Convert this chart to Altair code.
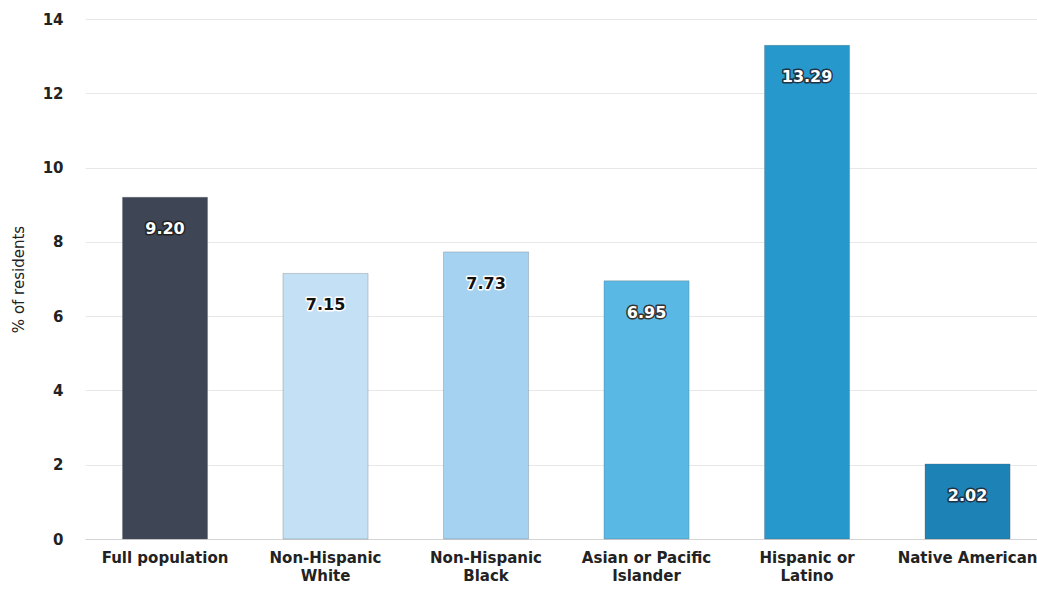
import altair as alt
import pandas as pd

# Share of residents by group
groups = [
    "Full population",
    "Non-Hispanic\nWhite",
    "Non-Hispanic\nBlack",
    "Asian or Pacific\nIslander",
    "Hispanic or\nLatino",
    "Native American",
]
values = [9.20, 7.15, 7.73, 6.95, 13.29, 2.02]
bar_colors = ["#3e4554", "#c4e0f5", "#a5d2f0", "#59b9e4", "#2698cc", "#1d82b6"]
label_fill = ["#ffffff", "#111111", "#111111", "#ffffff", "#ffffff", "#ffffff"]
label_halo = ["#222222", "#ffffff", "#ffffff", "#333333", "#1f3344", "#1f3344"]
y_ticks = [0, 2, 4, 6, 8, 10, 12, 14]

df = pd.DataFrame({
    "group": groups,
    "value": values,
    "color": bar_colors,
    "fill": label_fill,
    "halo": label_halo,
})
df["label"] = df["value"].map(lambda v: f"{v:.2f}")

FONT = "DejaVu Sans"

x = alt.X(
    "group:N",
    sort=groups,
    scale=alt.Scale(paddingInner=0.47, paddingOuter=0.2006, align=0.582),
    axis=alt.Axis(
        title=None,
        labelAngle=0,
        labelExpr="split(datum.label, '\\n')",
        labelFont=FONT,
        labelFontSize=15,
        labelFontWeight="bold",
        labelColor="#222222",
        labelPadding=11,
        labelLineHeight=18,
        ticks=False,
        domain=True,
        domainColor="#d4d4d4",
        grid=False,
    ),
)
y = alt.Y(
    "value:Q",
    scale=alt.Scale(domain=[0, 14], nice=False),
    axis=alt.Axis(
        title="% of residents",
        values=y_ticks,
        titleFont=FONT,
        titleFontSize=15,
        titleFontWeight="normal",
        titleColor="#222222",
        titleX=-67,
        titleY=260,
        titleAngle=-90,
        titleAlign="center",
        titleBaseline="middle",
        labelFont=FONT,
        labelFontSize=15,
        labelFontWeight="bold",
        labelColor="#222222",
        labelPadding=22,
        ticks=False,
        domain=False,
        grid=True,
        gridColor="#e8e8e8",
        gridWidth=1,
    ),
)

base = alt.Chart(df)

bars = base.mark_bar(stroke="#55606e", strokeWidth=0.6, strokeOpacity=0.5).encode(
    x=x, y=y, color=alt.Color("color:N", scale=None)
)

halo = base.mark_text(
    font=FONT, fontSize=16, fontWeight="bold", baseline="middle", dy=32,
    strokeWidth=3, strokeJoin="round",
).encode(
    x=alt.X("group:N", sort=groups),
    y="value:Q",
    text="label:N",
    stroke=alt.Stroke("halo:N", scale=None),
    fill=alt.Fill("halo:N", scale=None),
)

labels = base.mark_text(
    font=FONT, fontSize=16, fontWeight="bold", baseline="middle", dy=32,
).encode(
    x=alt.X("group:N", sort=groups),
    y="value:Q",
    text="label:N",
    fill=alt.Fill("fill:N", scale=None),
)

chart = (
    alt.layer(bars, halo, labels)
    .properties(
        width=952,
        height=520,
        background="#ffffff",
        autosize=alt.AutoSizeParams(type="none"),
        padding={"left": 85, "top": 19, "right": 0, "bottom": 51},
    )
    .configure_view(strokeWidth=0)
)

chart.save("out.html", embed_options={"renderer": "svg", "actions": False})
